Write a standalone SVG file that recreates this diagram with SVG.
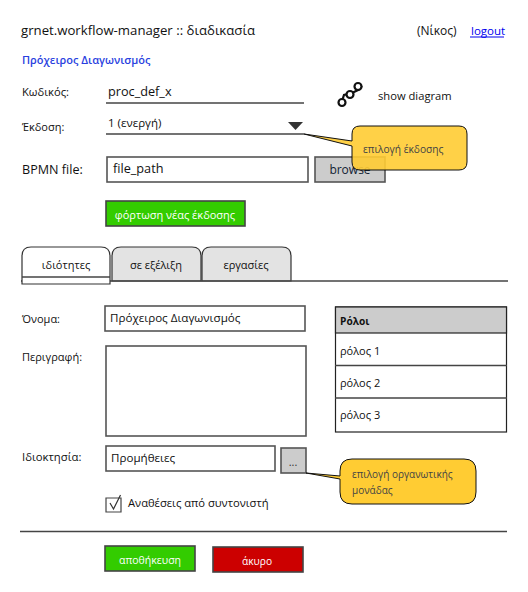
<svg xmlns="http://www.w3.org/2000/svg" width="528" height="592" viewBox="0 0 528 592">
<style>
text{font-family:"Open Sans","Noto Sans","DejaVu Sans",sans-serif;font-size:11px;fill:#111}
.box{fill:#fff;stroke:#555;stroke-width:1.6}
.grey{fill:#ccc;stroke:#555;stroke-width:1.6}
.ln{fill:none;stroke:#444;stroke-width:1.4}
.tab{fill:#e3e3e3;stroke:#333;stroke-width:1.2}
.green{fill:#33cc00;stroke:#444;stroke-width:1.6}
.note{fill:#ffcc33;stroke:#111;stroke-width:1}
.w{fill:#fff;text-anchor:middle}
.c{text-anchor:middle}
.note-t{fill:#444;font-size:10.2px}
</style>
<rect width="528" height="592" fill="#fff"/>
<g id="header">
<text x="21" y="35" style="font-size:13.2px">grnet.workflow-manager :: διαδικασία</text>
<text x="417" y="35" style="font-size:12px">(Νίκος)</text>
<text x="471" y="35" style="font-size:11.500px;fill:#00e">logout</text>
<line x1="470" y1="37" x2="504" y2="37" stroke="#00e" stroke-width="1"/>
<text x="22" y="64" style="font-weight:600;fill:#2a3fe0">Πρόχειρος Διαγωνισμός</text>
</g>
<g id="form-top">
<text x="22" y="96" style="font-size:11.200px">Κωδικός:</text>
<text x="108" y="96" style="font-size:12.700px">proc_def_x</text>
<line class="ln" x1="106" y1="103" x2="304" y2="103"/>
<text x="22" y="131">Έκδοση:</text>
<text x="108" y="127" style="font-size:11.500px">1 (ενεργή)</text>
<line class="ln" x1="106" y1="134" x2="304" y2="134"/>
<path d="M288 122h15l-7.500 8z" fill="#333"/>
<text x="22" y="174" style="font-size:12.600px">BPMN file:</text>
<rect class="box" x="107" y="157" width="201" height="25"/>
<text x="113" y="173" style="font-size:12.700px">file_path</text>
<rect class="grey" x="315" y="157" width="70" height="25"/>
<text class="c" x="350" y="174" style="font-size:12px;fill:#123">browse</text>
</g>
<g id="diagram-link">
<g fill="#fff" stroke="#111" stroke-width="2.200">
<path d="M342 101l2-6 8-2 6-3 4-4" fill="none"/>
<circle cx="342" cy="102.500" r="3.500"/><circle cx="350" cy="94.500" r="3.500"/><circle cx="358" cy="86.500" r="3.500"/>
</g>
<text x="378" y="100" style="font-size:11.200px">show diagram</text>
</g>
<g id="upload-button">
<rect class="green" x="106" y="201" width="139" height="25"/>
<text class="w" x="175" y="219">φόρτωση νέας έκδοσης</text>
</g>
<g id="note-version">
<path class="note" fill-opacity="0.9" d="M304 134L352 141V134Q352 126 360 126H459Q467 126 467 134V162Q467 170 459 170H360Q352 170 352 162V146z"/>
<text class="note-t" x="363" y="153">επιλογή έκδοσης</text>
</g>
<g id="tabs">
<path class="tab" d="M112 281V256Q112 247 121 247H192Q201 247 201 256V281z"/>
<path class="tab" d="M202 281V256Q202 247 211 247H282Q291 247 291 256V281z"/>
<line class="ln" x1="21" y1="281" x2="508" y2="281"/>
<path d="M22 277V256Q22 247 31 247H101Q110 247 110 256V284H22z" fill="#fff" stroke="#333" stroke-width="1.200"/>
<line class="ln" x1="22" y1="277" x2="110" y2="277"/>
<text class="c" x="66" y="269">ιδιότητες</text>
<text class="c" x="156" y="269">σε εξέλιξη</text>
<text class="c" x="246" y="269">εργασίες</text>
</g>
<g id="form-body">
<text x="22" y="323">Όνομα:</text>
<rect class="box" x="105" y="306" width="200" height="25"/>
<text x="110" y="322" style="font-size:11.600px">Πρόχειρος Διαγωνισμός</text>
<text x="22" y="361">Περιγραφή:</text>
<rect class="box" x="106" y="346" width="200" height="90"/>
<text x="22" y="461" style="font-size:11.300px">Ιδιοκτησία:</text>
<rect class="box" x="106" y="446" width="169" height="25"/>
<text x="111" y="462" style="font-size:11.600px">Προμήθειες</text>
<rect class="grey" x="281" y="448" width="25" height="25"/>
<text class="c" x="293" y="466" style="fill:#333">...</text>
<path d="M106 498h15v14h-15z" fill="#fff" stroke="#444" stroke-width="1.200"/>
<path d="M110 503l3.500 6 7-14" fill="none" stroke="#333" stroke-width="1.200"/>
<text x="128" y="507" style="font-size:11.200px">Αναθέσεις από συντονιστή</text>
</g>
<g id="roles-table">
<rect x="335.500" y="307" width="171" height="125" fill="#fff" stroke="#222" stroke-width="1.200"/>
<rect x="335.500" y="307" width="171" height="26" fill="#ccc" stroke="#222" stroke-width="1.200"/>
<line class="ln" x1="335" y1="365.500" x2="507" y2="365.500"/>
<line class="ln" x1="335" y1="398" x2="507" y2="398"/>
<text x="340" y="325" style="font-size:10.200px;font-weight:700">Ρόλοι</text>
<text x="340" y="355">ρόλος 1</text>
<text x="340" y="387">ρόλος 2</text>
<text x="340" y="419">ρόλος 3</text>
</g>
<g id="note-unit">
<path class="note" d="M306 473L340 476V471Q340 459 352 459H464Q476 459 476 471V492Q476 504 464 504H352Q340 504 340 492V479z"/>
<text class="note-t" x="352" y="478" style="font-size:10px">επιλογή οργανωτικής</text>
<text class="note-t" x="352" y="494" style="font-size:10px">μονάδας</text>
</g>
<g id="footer">
<line class="ln" x1="20" y1="531.500" x2="507" y2="531.500"/>
<rect class="green" x="105" y="546" width="90" height="25"/>
<text class="w" x="150" y="564" style="font-size:10.500px">αποθήκευση</text>
<rect x="213" y="547" width="90" height="25" fill="#cc0000" stroke="#444" stroke-width="1.600"/>
<text class="w" x="257" y="565" style="font-size:10.200px">άκυρο</text>
</g>
</svg>
